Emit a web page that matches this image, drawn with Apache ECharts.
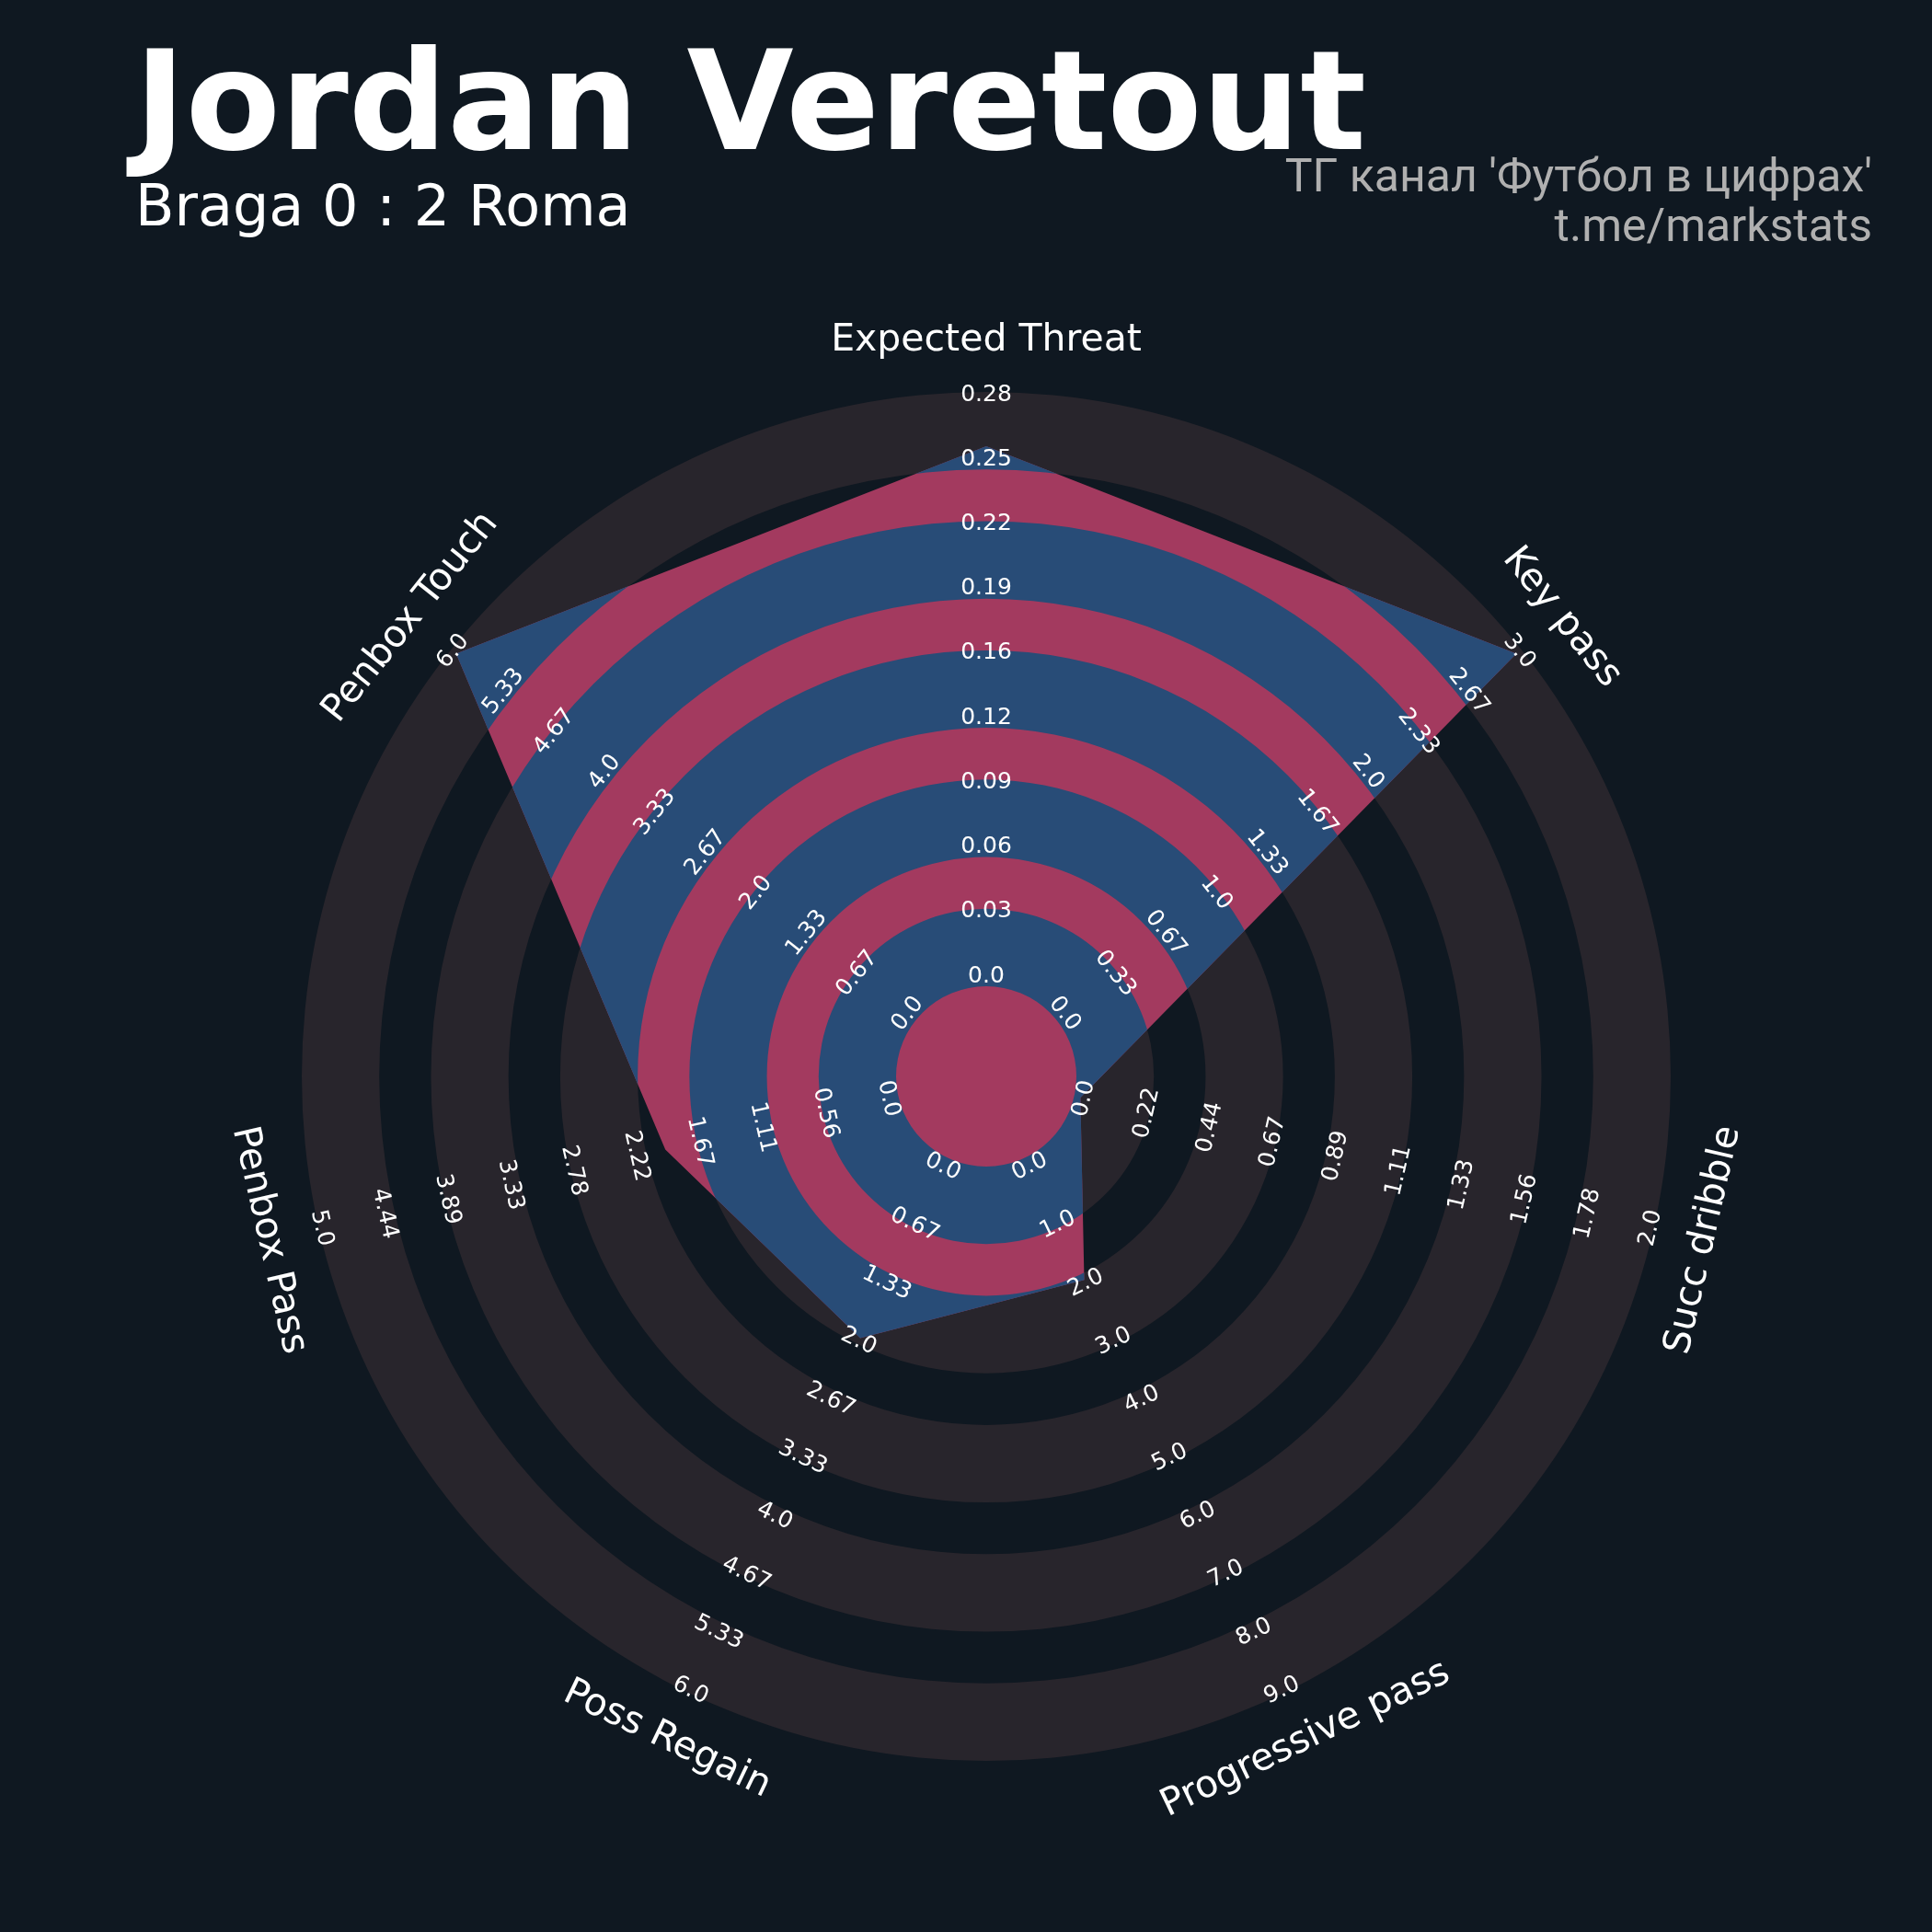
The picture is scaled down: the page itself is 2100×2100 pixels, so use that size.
<!DOCTYPE html>
<html><head><meta charset="utf-8">
<script src="https://cdn.jsdelivr.net/npm/echarts@6/dist/echarts.min.js"></script>
<style>html,body{margin:0;padding:0;background:#0f1821}#c{width:2100px;height:2100px}</style>
</head><body><div id="c"></div>
<script>
// ---------- data ----------
const params = ['Expected Threat', 'Key pass', 'Succ dribble', 'Progressive pass', 'Poss Regain', 'Penbox Pass', 'Penbox Touch'];
const minRange = [0, 0, 0, 0, 0, 0, 0];
const maxRange = [0.28, 3, 2, 9, 6, 5, 6];
const values = [0.257, 3.0, 0.0, 2.0, 2.0, 2.0, 6.0];
const ticksXT = ['0.0', '0.03', '0.06', '0.09', '0.12', '0.16', '0.19', '0.22', '0.25', '0.28'];
const ticksKeyPass = ['0.0', '0.33', '0.67', '1.0', '1.33', '1.67', '2.0', '2.33', '2.67', '3.0'];
const ticksDribble = ['0.0', '0.22', '0.44', '0.67', '0.89', '1.11', '1.33', '1.56', '1.78', '2.0'];
const ticksProgPass = ['0.0', '1.0', '2.0', '3.0', '4.0', '5.0', '6.0', '7.0', '8.0', '9.0'];
const ticksRegain = ['0.0', '0.67', '1.33', '2.0', '2.67', '3.33', '4.0', '4.67', '5.33', '6.0'];
const ticksPenPass = ['0.0', '0.56', '1.11', '1.67', '2.22', '2.78', '3.33', '3.89', '4.44', '5.0'];
const ticksPenTouch = ['0.0', '0.67', '1.33', '2.0', '2.67', '3.33', '4.0', '4.67', '5.33', '6.0'];
const tickLabels = [ticksXT, ticksKeyPass, ticksDribble, ticksProgPass, ticksRegain, ticksPenPass, ticksPenTouch];
const titleText = 'Jordan Veretout';
const subtitleText = 'Braga 0 : 2 Roma';
const creditLines = ["ТГ канал 'Футбол в цифрах'", 't.me/markstats'];

// ---------- style / layout ----------
const BG = '#0f1821', RING = '#28252c', PINK = '#a33a5f', BLUE = '#284c77', WHITE = '#ffffff', GREY = '#b0b0b0';
const CX = 1072, CY = 1170, R = 737, R0 = 105, PAD = 7, NAME_R = 800;
const FONT = '"DejaVu Sans", sans-serif';

const n = params.length;
const order = params.map((_, j) => (n - j) % n);         // echarts indicator j -> clockwise param index
const f = R0 / R;
const indicator = order.map(c => ({
  name: params[c],
  min: minRange[c] - (maxRange[c] - minRange[c]) * f / (1 - f),
  max: maxRange[c]
}));
const radarValues = order.map(c => values[c]);

const chart = echarts.init(document.getElementById('c'), null, {renderer: 'canvas'});
chart.setOption({
  backgroundColor: BG,
  animation: false,
  radar: {
    center: [CX, CY], radius: R, startAngle: 90, shape: 'circle', indicator: indicator,
    axisName: {show: false}, axisLine: {show: false}, splitLine: {show: false},
    splitArea: {show: false}, axisTick: {show: false}, axisLabel: {show: false}, silent: true
  },
  graphic: [
    {type: 'text', x: 146, y: 123, style: {text: titleText, font: 'bold 150px ' + FONT, fill: WHITE, align: 'left', verticalAlign: 'middle'}},
    {type: 'text', x: 147, y: 229, style: {text: subtitleText, font: '62px ' + FONT, fill: WHITE, align: 'left', verticalAlign: 'middle'}},
    {type: 'text', x: 2035, y: 195, style: {text: creditLines[0], font: '50px Roboto', fill: GREY, align: 'right', verticalAlign: 'middle'}},
    {type: 'text', x: 2035, y: 249, style: {text: creditLines[1], font: '50px Roboto', fill: GREY, align: 'right', verticalAlign: 'middle'}}
  ],
  series: [{
    id: 'poly', type: 'radar', z: 2, silent: true, symbol: 'none',
    lineStyle: {width: 0, opacity: 0},
    areaStyle: {color: PINK, opacity: 1},
    data: [{value: radarValues}]
  }]
});

// ---------- geometry from the radar coordinate system ----------
const cs = chart.getModel().getComponent('radar', 0).coordinateSystem;
const cx = cs.cx, cy = cs.cy;
const polyPts = radarValues.map((v, j) => cs.dataToPoint(v, j));
function tickRadius(k) {           // radius of k-th tick (0..9) along axis 0
  const p = cs.dataToPoint(minRange[order[0]] + (maxRange[order[0]] - minRange[order[0]]) * k / 9, 0);
  return Math.hypot(p[0] - cx, p[1] - cy);
}
const bands = [];
for (let j = 0; j < 5; j++) bands.push([tickRadius(2 * j) - PAD, tickRadius(2 * j + 1) + PAD]);

function ringEls(color) {
  return bands.map(b => ({type: 'ring', shape: {cx: cx, cy: cy, r0: b[0], r: b[1]}, style: {fill: color}}));
}

function rotFor(c) {
  const th = c * 360 / n;
  let rot = th;
  if (th > 90 && th < 270) rot = th - 180;
  else if (th >= 270) rot = th - 360;
  return -rot * Math.PI / 180;
}

const labelEls = [];
order.forEach((c, j) => {
  const rot = rotFor(c);
  const ind = indicator[j];
  tickLabels[c].forEach((t, k) => {
    const v = minRange[c] + (maxRange[c] - minRange[c]) * k / 9;
    const p = cs.dataToPoint(v, j);
    const dx = p[0] - cx, dy = p[1] - cy, d = Math.hypot(dx, dy) || 1;
    labelEls.push({type: 'text', x: p[0] + dx / d * 4, y: p[1] + dy / d * 4, rotation: rot,
      style: {text: t, font: '25px ' + FONT, fill: WHITE, align: 'center', verticalAlign: 'middle'}});
  });
  const vName = ind.min + (ind.max - ind.min) * NAME_R / R;
  const q = cs.dataToPoint(vName, j);
  labelEls.push({type: 'text', x: q[0], y: q[1], rotation: rot,
    style: {text: params[c], font: '41px ' + FONT, fill: WHITE, align: 'center', verticalAlign: 'middle'}});
});

chart.setOption({
  series: [
    {id: 'poly'},
    {id: 'rings', type: 'custom', coordinateSystem: 'none', z: 1, silent: true, data: [0],
      renderItem: () => ({type: 'group', children: ringEls(RING)})},
    {id: 'inner', type: 'custom', coordinateSystem: 'none', z: 3, silent: true, data: [0],
      renderItem: () => ({type: 'group', clipPath: {type: 'polygon', shape: {points: polyPts}}, children: ringEls(BLUE)})},
    {id: 'labels', type: 'custom', coordinateSystem: 'none', z: 4, silent: true, data: [0],
      renderItem: () => ({type: 'group', children: labelEls})}
  ]
});
</script></body></html>
